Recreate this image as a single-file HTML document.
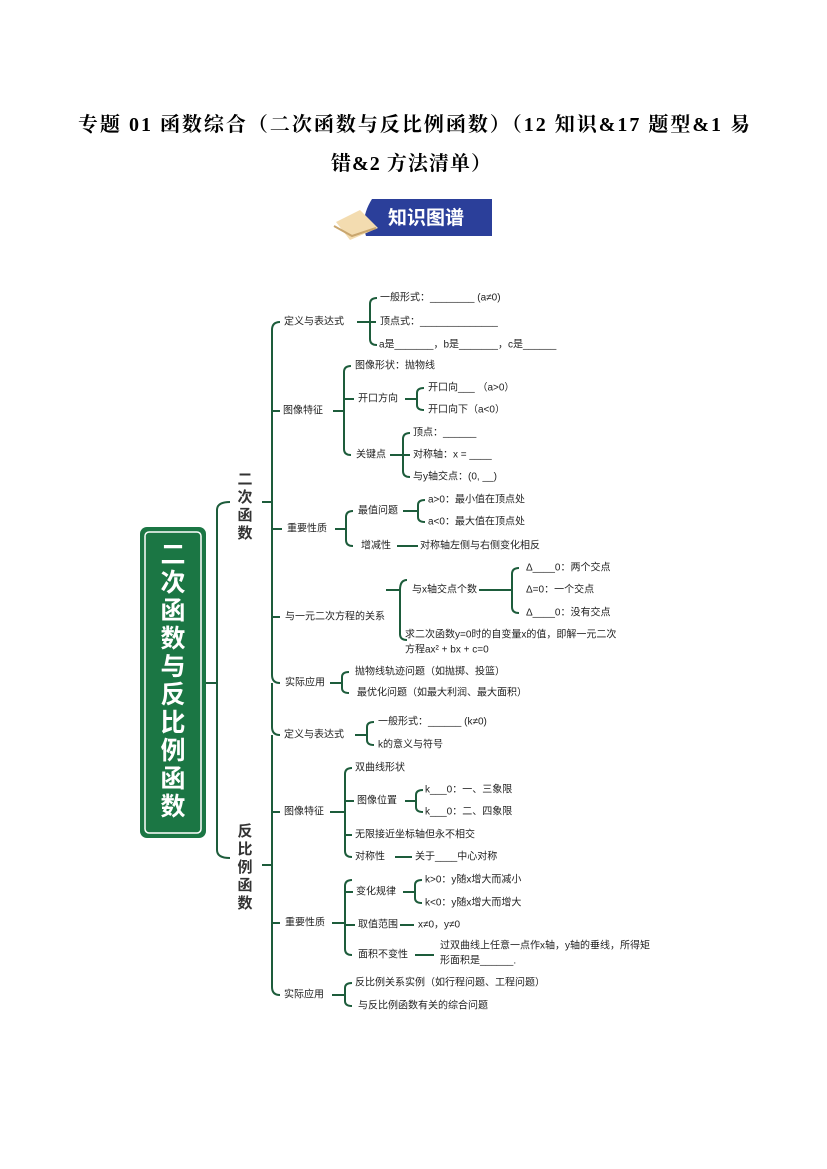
<!DOCTYPE html>
<html><head><meta charset="utf-8"><style>
body{margin:0;background:#fff;}
svg{display:block}
text{font-family:"Liberation Sans","Noto Sans CJK SC",sans-serif;}
.t{font-size:10px;fill:#222;dominant-baseline:middle}
.b{font-family:"Liberation Serif","Noto Serif CJK SC",serif;font-size:20px;font-weight:bold;fill:#000}
</style></head><body>
<svg width="827" height="1169" viewBox="0 0 827 1169" xmlns="http://www.w3.org/2000/svg">
<text class="b" x="78" y="131" textLength="672" lengthAdjust="spacing">专题 01  函数综合（二次函数与反比例函数）（12 知识&amp;17 题型&amp;1 易</text>
<text class="b" x="331" y="170" textLength="160" lengthAdjust="spacing">错&amp;2 方法清单）</text>
<!-- badge -->
<path d="M372 199 L492 199 L492 236 L366 236 Q360 218 372 199 Z" fill="#2b3f9a"/>
<path d="M336 222 L360 210 L378 228 L350 240 Z" fill="#f3dcb0"/>
<path d="M334 226 L352 236 L376 228" stroke="#c9a66e" fill="none" stroke-width="2"/>
<text x="388" y="224" fill="#fff" font-size="19" font-weight="bold" style="font-family:'Noto Sans CJK SC',sans-serif">知识图谱</text>
<!-- green box -->
<rect x="140" y="527" width="66" height="311" rx="7" fill="#1b7644"/>
<rect x="145" y="532" width="56" height="301" rx="4" fill="none" stroke="#fff" stroke-width="1.5"/>
<g fill="#fff" font-size="25" font-weight="bold" text-anchor="middle" style="font-family:'Noto Sans CJK SC',sans-serif">
<text x="173" y="563">二</text><text x="173" y="591">次</text><text x="173" y="619">函</text><text x="173" y="647">数</text><text x="173" y="675">与</text><text x="173" y="703">反</text><text x="173" y="731">比</text><text x="173" y="759">例</text><text x="173" y="787">函</text><text x="173" y="815">数</text>
</g>
<g fill="#333" font-size="15" font-weight="bold" text-anchor="middle" style="font-family:'Noto Sans CJK SC',sans-serif">
<text x="245" y="484">二</text><text x="245" y="502">次</text><text x="245" y="520">函</text><text x="245" y="538">数</text>
<text x="245" y="836">反</text><text x="245" y="854">比</text><text x="245" y="872">例</text><text x="245" y="890">函</text><text x="245" y="908">数</text>
</g>
<g stroke="#1d5c3b" stroke-width="2" fill="none">
<path d="M206 683 H217"/>
<path d="M230 502 Q217 502 217 510 V850 Q217 858 230 858"/>
<path d="M262 502 H272"/><path d="M262 865 H272"/>
<path d="M280 322 Q272 322 272 330 V675 Q272 683 280 683"/>
<path d="M272 683 V727 Q272 735 280 735"/>
<path d="M272 735 V987 Q272 995 280 995"/>
<path d="M272 411 H280"/><path d="M272 529 H282"/><path d="M272 617 H280"/><path d="M272 812 H280"/><path d="M272 923 H280"/>
<path d="M357 322 H376"/><path d="M377 298 Q370 298 370 304 V339 Q370 345 377 345"/>
<path d="M333 411 H344"/><path d="M351 366 Q344 366 344 372 V449 Q344 455 351 455"/><path d="M344 399 H354"/>
<path d="M405 399 H417"/><path d="M424 388 Q417 388 417 393 V405 Q417 410 424 410"/>
<path d="M390 455 H410"/><path d="M410 433 Q403 433 403 439 V471 Q403 477 410 477"/>
<path d="M335 529 H346"/><path d="M353 511 Q346 511 346 517 V540 Q346 546 353 546"/>
<path d="M403 511 H418"/><path d="M425 500 Q418 500 418 505 V517 Q418 522 425 522"/>
<path d="M397 546 H418"/>
<path d="M386 590 H400"/><path d="M407 580 Q400 580 400 590 V634 Q400 640 407 640"/>
<path d="M479 590 H512"/><path d="M519 568 Q512 568 512 574 V607 Q512 613 519 613"/>
<path d="M330 683 H342"/><path d="M349 672 Q342 672 342 677 V688 Q342 693 349 693"/>
<path d="M355 735 H367"/><path d="M374 722 Q367 722 367 727 V740 Q367 745 374 745"/>
<path d="M330 812 H345"/><path d="M352 768 Q345 768 345 774 V851 Q345 857 352 857"/><path d="M345 801 H354"/><path d="M345 835 H352"/>
<path d="M405 801 H416"/><path d="M423 790 Q416 790 416 795 V807 Q416 812 423 812"/>
<path d="M395 857 H412"/>
<path d="M332 923 H345"/><path d="M352 880 Q345 880 345 886 V949 Q345 955 352 955"/><path d="M345 892 H353"/><path d="M345 925 H355"/>
<path d="M403 892 H415"/><path d="M422 880 Q415 880 415 885 V898 Q415 903 422 903"/>
<path d="M400 925 H414"/><path d="M415 955 H434"/>
<path d="M332 995 H345"/><path d="M352 983 Q345 983 345 988 V1001 Q345 1006 352 1006"/>
</g>
<g class="t">
<text class="t" x="284" y="322">定义与表达式</text>
<text class="t" x="380" y="298">一般形式：________ (a≠0)</text>
<text class="t" x="380" y="322">顶点式：______________</text>
<text class="t" x="379" y="345">a是_______，b是_______，c是______</text>
<text class="t" x="283" y="411">图像特征</text>
<text class="t" x="355" y="366">图像形状：抛物线</text>
<text class="t" x="358" y="399">开口方向</text>
<text class="t" x="428" y="388">开口向___ （a&gt;0）</text>
<text class="t" x="428" y="410">开口向下（a&lt;0）</text>
<text class="t" x="356" y="455">关键点</text>
<text class="t" x="413" y="433">顶点：______</text>
<text class="t" x="413" y="455">对称轴：x = ____</text>
<text class="t" x="413" y="477">与y轴交点：(0, __)</text>
<text class="t" x="287" y="529">重要性质</text>
<text class="t" x="358" y="511">最值问题</text>
<text class="t" x="428" y="500">a&gt;0：最小值在顶点处</text>
<text class="t" x="428" y="522">a&lt;0：最大值在顶点处</text>
<text class="t" x="361" y="546">增减性</text>
<text class="t" x="420" y="546">对称轴左侧与右侧变化相反</text>
<text class="t" x="285" y="617">与一元二次方程的关系</text>
<text class="t" x="412" y="590">与x轴交点个数</text>
<text class="t" x="526" y="568">Δ____0：两个交点</text>
<text class="t" x="526" y="590">Δ=0：一个交点</text>
<text class="t" x="526" y="613">Δ____0：没有交点</text>
<text class="t" x="405" y="635">求二次函数y=0时的自变量x的值，即解一元二次</text>
<text class="t" x="405" y="650">方程ax² + bx + c=0</text>
<text class="t" x="285" y="683">实际应用</text>
<text class="t" x="355" y="672">抛物线轨迹问题（如抛掷、投篮）</text>
<text class="t" x="357" y="693">最优化问题（如最大利润、最大面积）</text>
<text class="t" x="284" y="735">定义与表达式</text>
<text class="t" x="378" y="722">一般形式：______ (k≠0)</text>
<text class="t" x="378" y="745">k的意义与符号</text>
<text class="t" x="284" y="812">图像特征</text>
<text class="t" x="355" y="768">双曲线形状</text>
<text class="t" x="357" y="801">图像位置</text>
<text class="t" x="425" y="790">k___0：一、三象限</text>
<text class="t" x="425" y="812">k___0：二、四象限</text>
<text class="t" x="355" y="835">无限接近坐标轴但永不相交</text>
<text class="t" x="355" y="857">对称性</text>
<text class="t" x="415" y="857">关于____中心对称</text>
<text class="t" x="285" y="923">重要性质</text>
<text class="t" x="356" y="892">变化规律</text>
<text class="t" x="425" y="880">k&gt;0：y随x增大而减小</text>
<text class="t" x="425" y="903">k&lt;0：y随x增大而增大</text>
<text class="t" x="358" y="925">取值范围</text>
<text class="t" x="418" y="925">x≠0，y≠0</text>
<text class="t" x="358" y="955">面积不变性</text>
<text class="t" x="440" y="946">过双曲线上任意一点作x轴，y轴的垂线，所得矩</text>
<text class="t" x="440" y="961">形面积是______.</text>
<text class="t" x="284" y="995">实际应用</text>
<text class="t" x="355" y="983">反比例关系实例（如行程问题、工程问题）</text>
<text class="t" x="358" y="1006">与反比例函数有关的综合问题</text>
</g>
</svg>
</body></html>
